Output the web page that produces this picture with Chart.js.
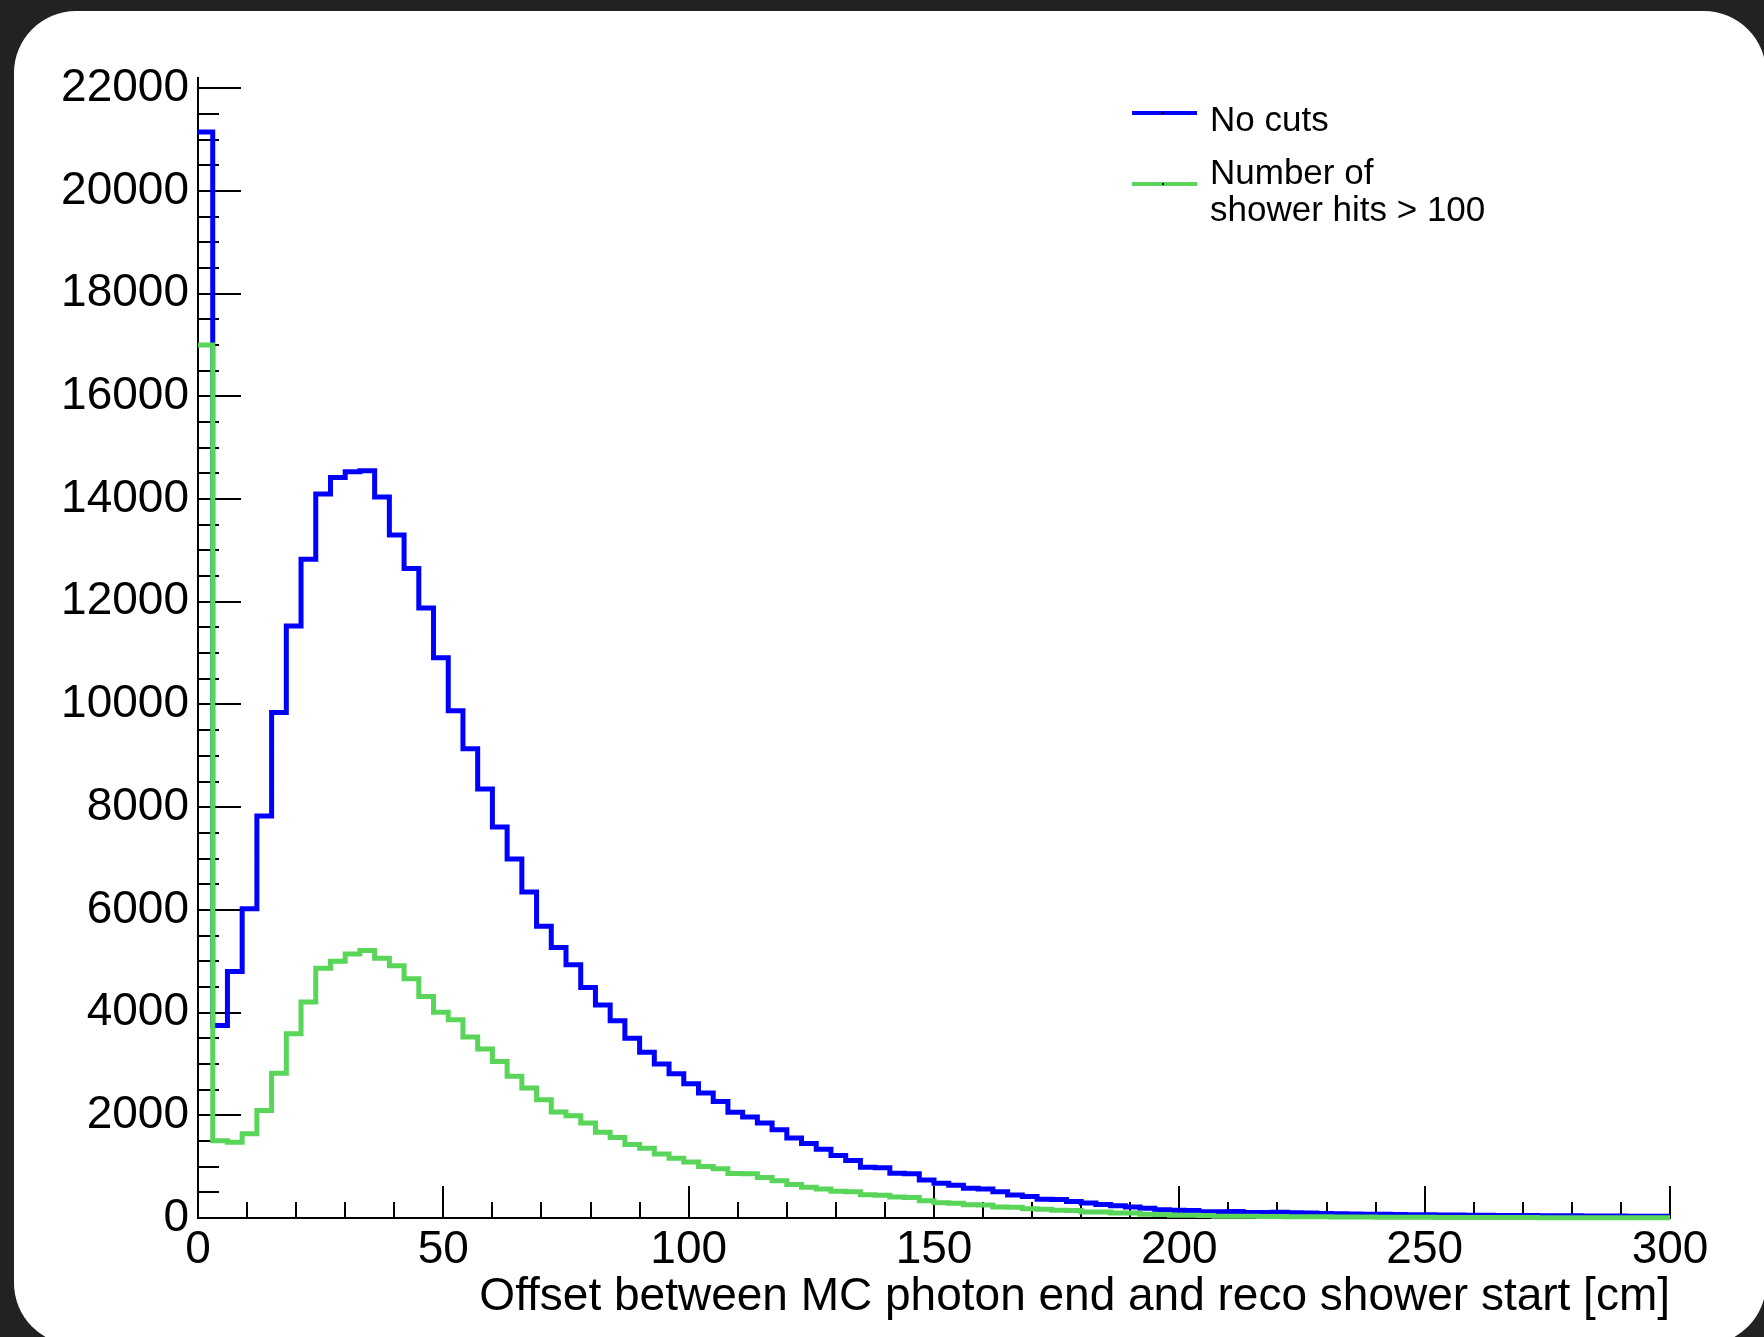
<!DOCTYPE html>
<html>
<head>
<meta charset="utf-8">
<title>Offset between MC photon end and reco shower start</title>
<script src="https://cdn.jsdelivr.net/npm/chart.js@4.4.1/dist/chart.umd.min.js"></script>
<style>
    html, body { margin: 0; padding: 0; background: #222222; }
    body { width: 1764px; height: 1337px; position: relative; overflow: hidden; font-family: "Liberation Sans", Arial, sans-serif; }
    .card { position: absolute; left: 14px; top: 11px; width: 1752px; height: 1334px; background: #ffffff; border-radius: 62px; }
    #histo { position: absolute; left: 0; top: 0; }
    .legend-line { position: absolute; left: 1132px; width: 65px; height: 4px; }
    .legend-line span { position: absolute; left: 30px; top: 1px; width: 2px; height: 2px; background: #000; }
    .legend-text { position: absolute; left: 1210px; font-size: 35px; line-height: 37px; color: #000; white-space: nowrap; }
</style>
</head>
<body>
<div class="card"></div>
<canvas id="histo" width="1764" height="1337"></canvas>

<div class="legend-line" style="top: 111px; background: #0000ff;"><span></span></div>
<div class="legend-text" style="top: 100px;">No cuts</div>
<div class="legend-line" style="top: 182px; background: #59d559;"><span></span></div>
<div class="legend-text" style="top: 153px;">Number of<br>shower hits &gt; 100</div>

<script>
// 100 bins of 3 cm, 0 - 300 cm
const binWidth = 3;

const noCuts = [
    21150, 3750, 4800, 6020, 7830, 9845, 11530, 12830, 14100, 14420,
    14530, 14550, 14040, 13300, 12650, 11880, 10910, 9880, 9140, 8355,
    7615, 6990, 6350, 5680, 5270, 4930, 4490, 4150, 3840, 3500,
    3230, 3000, 2810, 2615, 2435, 2270, 2060, 1965, 1850, 1720,
    1560, 1450, 1340, 1215, 1120, 990, 980, 870, 862, 740,
    675, 640, 580, 565, 510, 450, 420, 365, 360, 320,
    290, 265, 240, 215, 190, 160, 152, 145, 122, 120,
    125, 105, 105, 110, 100, 95, 88, 85, 80, 75,
    72, 70, 65, 62, 60, 58, 55, 52, 50, 50,
    48, 45, 44, 42, 40, 40, 38, 36, 35, 34
];

const hitsOver100 = [
    17000, 1505, 1475, 1640, 2095, 2820, 3590, 4205, 4865, 5000,
    5140, 5210, 5060, 4910, 4660, 4315, 4005, 3860, 3525, 3290,
    3050, 2760, 2530, 2305, 2065, 1990, 1850, 1670, 1570, 1430,
    1360, 1245, 1165, 1090, 1005, 960, 865, 860, 790, 725,
    650, 600, 565, 520, 510, 455, 445, 410, 400, 335,
    295, 285, 260, 255, 215, 210, 178, 170, 150, 145,
    118, 115, 98, 95, 75, 70, 55, 52, 50, 35,
    33, 32, 30, 28, 26, 24, 22, 20, 19, 18,
    16, 15, 14, 13, 12, 11, 10, 10, 9, 8,
    8, 7, 7, 6, 6, 5, 5, 5, 4, 4
];

const xTickLabels = [0, 50, 100, 150, 200, 250, 300];
const yTickLabels = [0, 2000, 4000, 6000, 8000, 10000, 12000, 14000, 16000, 18000, 20000, 22000];
const xMinorStep = 10;
const yMinorStep = 500;
const xTitle = 'Offset between MC photon end and reco shower start [cm]';

// histogram -> points at bin low edges, plus the last high edge
function toSteps(values) {
    const pts = values.map((v, i) => ({ x: i * binWidth, y: v }));
    pts.push({ x: values.length * binWidth, y: values[values.length - 1] });
    return pts;
}

function minorTicks(min, max, step) {
    const ticks = [];
    for (let v = min; v <= max; v += step) ticks.push({ value: v });
    return ticks;
}

// ROOT style ticks: drawn inside the frame, long for labelled ones
const insideTicks = {
    id: 'insideTicks',
    beforeDatasetsDraw(chart) {
        const { ctx, chartArea, scales: { x, y } } = chart;
        ctx.save();
        ctx.strokeStyle = '#000';
        ctx.lineWidth = 2;
        ctx.beginPath();
        y.ticks.forEach(t => {
            const py = Math.round(y.getPixelForValue(t.value));
            const len = yTickLabels.includes(t.value) ? 43 : 21;
            ctx.moveTo(chartArea.left, py);
            ctx.lineTo(chartArea.left + len, py);
        });
        x.ticks.forEach(t => {
            const px = Math.round(x.getPixelForValue(t.value));
            const len = xTickLabels.includes(t.value) ? 32 : 16;
            ctx.moveTo(px, chartArea.bottom);
            ctx.lineTo(px, chartArea.bottom - len);
        });
        ctx.stroke();
        ctx.restore();
    }
};

const tickFont = { family: '"Liberation Sans", Arial, sans-serif', size: 46 };

new Chart(document.getElementById('histo'), {
    type: 'line',
    data: {
        datasets: [
            {
                label: 'No cuts',
                data: toSteps(noCuts),
                borderColor: '#0000ff',
                borderWidth: 5,
                order: 2
            },
            {
                label: 'Number of shower hits > 100',
                data: toSteps(hitsOver100),
                borderColor: '#59d559',
                borderWidth: 5,
                order: 1
            }
        ]
    },
    options: {
        responsive: false,
        animation: false,
        parsing: false,
        layout: { padding: { left: 0, top: 78, right: 94, bottom: 0 } },
        elements: {
            line: { stepped: true, tension: 0, fill: false, borderJoinStyle: 'miter', borderCapStyle: 'butt' },
            point: { radius: 0, hoverRadius: 0 }
        },
        datasets: { line: { clip: false } },
        plugins: {
            legend: { display: false },
            tooltip: { enabled: false }
        },
        scales: {
            x: {
                type: 'linear',
                min: 0,
                max: 300,
                afterBuildTicks: s => { s.ticks = minorTicks(0, 300, xMinorStep); },
                afterFit: s => { s.height = 119; },
                grid: { display: true, drawOnChartArea: false, drawTicks: false },
                border: { display: true, color: '#000', width: 2 },
                ticks: {
                    autoSkip: false,
                    maxRotation: 0,
                    minRotation: 0,
                    padding: 5,
                    color: '#000',
                    font: tickFont,
                    callback: v => xTickLabels.includes(v) ? String(v) : ''
                },
                title: {
                    display: true,
                    text: xTitle,
                    align: 'end',
                    color: '#000',
                    font: tickFont,
                    padding: { top: 0, bottom: 12 }
                }
            },
            y: {
                type: 'linear',
                min: 0,
                max: 22200,
                afterBuildTicks: s => { s.ticks = minorTicks(0, 22000, yMinorStep); },
                afterFit: s => { s.width = 198; },
                grid: { display: true, drawOnChartArea: false, drawTicks: false },
                border: { display: true, color: '#000', width: 2 },
                ticks: {
                    autoSkip: false,
                    padding: 9,
                    color: '#000',
                    font: tickFont,
                    callback: v => yTickLabels.includes(v) ? String(v) : ''
                }
            }
        }
    },
    plugins: [insideTicks]
});
</script>
</body>
</html>
